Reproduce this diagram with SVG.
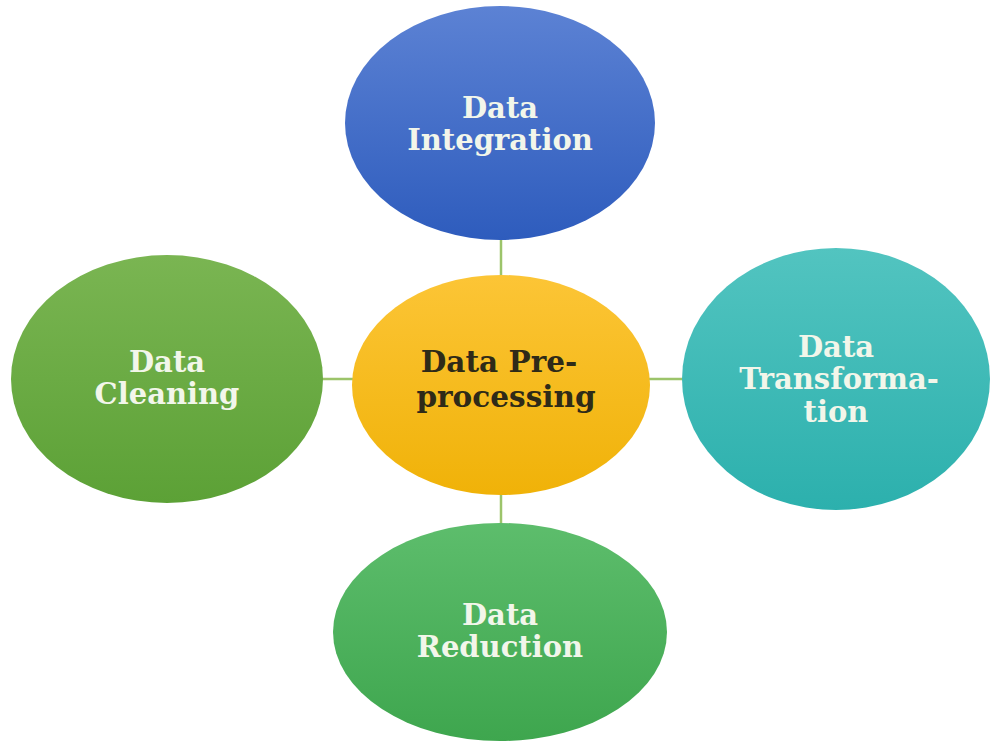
<svg xmlns="http://www.w3.org/2000/svg" width="1000" height="750" viewBox="0 0 1000 750">
<defs>
<linearGradient id="gBlue" x1="0" y1="0" x2="0" y2="1"><stop offset="0" stop-color="#5c82d4"/><stop offset="1" stop-color="#2e5cbd"/></linearGradient>
<linearGradient id="gYellow" x1="0" y1="0" x2="0" y2="1"><stop offset="0" stop-color="#fcc536"/><stop offset="1" stop-color="#f0b208"/></linearGradient>
<linearGradient id="gGreen" x1="0" y1="0" x2="0" y2="1"><stop offset="0" stop-color="#7ab552"/><stop offset="1" stop-color="#5ca136"/></linearGradient>
<linearGradient id="gTeal" x1="0" y1="0" x2="0" y2="1"><stop offset="0" stop-color="#52c4c0"/><stop offset="1" stop-color="#2cb0ad"/></linearGradient>
<linearGradient id="gGreen2" x1="0" y1="0" x2="0" y2="1"><stop offset="0" stop-color="#5dbd6c"/><stop offset="1" stop-color="#3ea64e"/></linearGradient>
</defs>
<style>
.lbl{font-family:"DejaVu Serif","Liberation Serif",serif;font-weight:bold;font-size:29px;fill:#f2f6ea;text-anchor:middle}
.ctr{font-family:"DejaVu Serif","Liberation Serif",serif;font-weight:bold;font-size:29.5px;fill:#2e2a18;text-anchor:middle}
.conn{stroke:#9cc46a;stroke-width:2.5;fill:none}
</style>
<rect width="1000" height="750" fill="#ffffff"/>
<g id="connectors">
<line class="conn" x1="501" y1="238" x2="501" y2="278"/>
<line class="conn" x1="501" y1="493" x2="501" y2="525"/>
<line class="conn" x1="321" y1="379" x2="354" y2="379"/>
<line class="conn" x1="648" y1="379" x2="685" y2="379"/>
</g>
<g id="integration">
<ellipse cx="500" cy="123" rx="155" ry="117" fill="url(#gBlue)"/>
<text class="lbl" x="500" y="118">Data</text>
<text class="lbl" x="500" y="150">Integration</text>
</g>
<g id="preprocessing">
<ellipse cx="501" cy="385" rx="149" ry="110" fill="url(#gYellow)"/>
<text class="ctr" x="499" y="372">Data Pre-</text>
<text class="ctr" x="506" y="407">processing</text>
</g>
<g id="cleaning">
<ellipse cx="167" cy="379" rx="156" ry="124" fill="url(#gGreen)"/>
<text class="lbl" x="167" y="372">Data</text>
<text class="lbl" x="167" y="404">Cleaning</text>
</g>
<g id="transformation">
<ellipse cx="836" cy="379" rx="154" ry="131" fill="url(#gTeal)"/>
<text class="lbl" x="836" y="357">Data</text>
<text class="lbl" x="839" y="389">Transforma-</text>
<text class="lbl" x="836" y="422">tion</text>
</g>
<g id="reduction">
<ellipse cx="500" cy="632" rx="167" ry="109" fill="url(#gGreen2)"/>
<text class="lbl" x="500" y="625">Data</text>
<text class="lbl" x="500" y="657">Reduction</text>
</g>
</svg>
